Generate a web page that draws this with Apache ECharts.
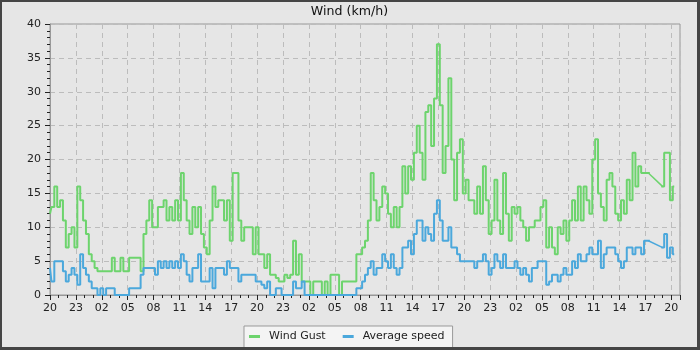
<!DOCTYPE html>
<html>
<head>
<meta charset="utf-8">
<title>Wind (km/h)</title>
<script src="https://cdn.jsdelivr.net/npm/echarts@6/dist/echarts.min.js"></script>
<style>
	html, body { margin: 0; padding: 0; background: #454545; }
	#chart { position: absolute; left: 2px; top: 2px; width: 695px; height: 345px; background: #e6e6e6; }
</style>
</head>
<body>
<div id="chart"></div>
<script>
	/* one sample every 20 minutes, starting at 20:00 */
	var startHour = 20;
	var samplesPerHour = 3;
	var tickLabels = ['20','23','02','05','08','11','14','17','20','23','02','05','08',
		'11','14','17','20','23','02','05','08','11','14','17','20'];

	var windGust = [
		12, 13, 16,   13, 14, 11,   7, 9, 10,   7, 16, 14,   11, 9, 6,   5, 4, 3.5,
		3.5, 3.5, 3.5,   3.5, 5.5, 3.5,   3.5, 5.5, 3.5,   3.5, 5.5, 5.5,   5.5, 5.5, 3.5,   9, 11, 14,
		10, 10, 13,   13, 14, 11,   13, 11, 14,   11, 18, 14,   11, 9, 13,   10, 13, 9,
		7, 6, 11,   16, 13, 14,   14, 11, 14,   8, 18, 18,   11, 8, 10,   10, 10, 6,
		10, 6, 6,   4, 6, 3,   3, 2.5, 2,   2, 3, 2.5,   3, 8, 3,   6, 2, 2,
		2, 0, 2,   2, 2, 0,   2, 0, 3,   3, 3, 0,   2, 2, 2,   2, 2, 6,
		6, 7, 8,   11, 18, 14,   11, 13, 16,   15, 12, 10,   13, 10, 13,   19, 15, 19,
		17, 21, 25,   21, 17, 27,   28, 22, 29,   37, 28, 18,   22, 32, 20,   14, 21, 23,
		15, 17, 14,   14, 12, 16,   12, 19, 14,   9, 11, 17,   11, 9, 18,   12, 8, 13,
		12, 13, 11,   10, 8, 10,   10, 11, 11,   13, 14, 7,   10, 7, 6,   10, 9, 11,
		8, 11, 14,   11, 16, 11,   16, 14, 12,   20, 23, 15,   13, 11, 17,   18, 16, 12,
		11, 14, 12,   17, 14, 21,   16, 19, 18,   18, 18, null,   null, null, null,   16, 21, 21,
		14, 16
	];

	var averageSpeed = [
		4, 2, 5,   5, 5, 3.5,   2, 3, 4,   3, 1.5, 6,   4, 3, 2,   1, 1, 0,
		1, 0, 1,   1, 1, 0,   0, 0, 0,   0, 1, 1,   1, 1, 3,   4, 4, 4,
		4, 3, 5,   4, 5, 4,   5, 4, 5,   4, 6, 5,   3, 2, 4,   4, 6, 2,
		2, 2, 4,   1, 4, 4,   4, 3, 5,   4, 4, 4,   2, 3, 3,   3, 3, 3,
		2, 2, 1.5,   1, 2, 0,   0, 1, 1,   0, 0, 0,   0, 2, 1,   1, 2, 0,
		0, 0, 0,   0, 0, 0,   0, 0, 0,   0, 0, 0,   0, 0, 0,   0, 0, 1,
		1, 2, 3,   4, 5, 3,   4, 4, 6,   5, 4, 6,   4, 3, 4,   7, 7, 8,
		6, 9, 11,   11, 8, 10,   9, 8, 12,   14, 11, 8,   8, 10, 7,   7, 6, 5,
		5, 5, 5,   5, 4, 5,   5, 6, 5,   3, 4, 6,   5, 4, 6,   4, 4, 4,
		5, 4, 3,   4, 3, 2,   4, 4, 5,   5, 5, 1.5,   2, 3, 3,   2, 3, 4,
		3, 3, 5,   4, 6, 5,   5, 6, 7,   6, 6, 8,   4, 6, 7,   7, 7, 6,
		5, 4, 5,   7, 7, 6,   7, 7, 6,   8, 8, null,   null, null, null,   7, 9, 5.5,
		7, 6
	];

	function toPoints(values) {
		var pts = [];
		for (var i = 0; i < values.length; i++) {
			pts.push([i / samplesPerHour, values[i] === null ? '-' : values[i]]);
		}
		return pts;
	}

	/* the logger was off for a while: the original joins the two ends with a straight line */
	function gapBridges(values) {
		var pts = [];
		for (var i = 1; i < values.length; i++) {
			if (values[i] === null && values[i - 1] !== null) {
				var j = i;
				while (j < values.length && values[j] === null) j++;
				if (j < values.length) {
					pts.push([(i - 1) / samplesPerHour, values[i - 1]]);
					pts.push([j / samplesPerHour, values[j]]);
					pts.push([j / samplesPerHour, '-']);
				}
			}
		}
		return pts;
	}

	var font = 'DejaVu Sans';
	var gustColor = '#6dd46d';
	var avgColor = '#4ba8dc';
	var chart = echarts.init(document.getElementById('chart'));

	function stepSeries(name, color, values) {
		return {
			name: name,
			type: 'line',
			step: 'middle',
			showSymbol: false,
			symbol: 'none',
			color: color,
			lineStyle: { width: 2, color: color },
			data: toPoints(values)
		};
	}

	function bridgeSeries(name, color, values) {
		return {
			name: name,
			type: 'line',
			showSymbol: false,
			symbol: 'none',
			color: color,
			lineStyle: { width: 1.5, color: color },
			data: gapBridges(values)
		};
	}

	var option = {
		backgroundColor: '#e6e6e6',
		animation: false,
		title: {
			text: 'Wind (km/h)',
			left: 'center',
			top: 3,
			padding: 0,
			textStyle: { fontFamily: font, fontSize: 12.6, fontWeight: 'normal', color: '#111' }
		},
		grid: {
			left: 48, top: 22, right: 17, bottom: 52,
			show: true, borderColor: '#999', borderWidth: 1, backgroundColor: 'transparent'
		},
		legend: {
			left: 242,
			top: 324,
			icon: 'rect',
			itemWidth: 11,
			itemHeight: 3,
			itemGap: 17,
			padding: [5, 8, 8, 5],
			backgroundColor: '#f4f4f4',
			borderColor: '#999',
			borderWidth: 1,
			textStyle: { fontFamily: font, fontSize: 11, color: '#222', padding: [0, 0, 0, 4] },
			data: ['Wind Gust', 'Average speed']
		},
		xAxis: {
			type: 'value',
			min: 0,
			max: 73,
			interval: 3,
			axisLine: { lineStyle: { color: '#999' } },
			axisTick: { length: 5, lineStyle: { color: '#222' } },
			minorTick: { show: true, splitNumber: 3, length: 3, lineStyle: { color: '#222' } },
			splitLine: { show: true, lineStyle: { color: '#bcbcbc', type: [5, 4] } },
			axisLabel: {
				margin: 8,
				fontFamily: font, fontSize: 11, color: '#222',
				formatter: function (v) {
					if (v % 3 !== 0) return '';
					return tickLabels[v / 3] || '';
				}
			}
		},
		yAxis: {
			type: 'value',
			min: 0,
			max: 40,
			interval: 5,
			axisLine: { show: true, lineStyle: { color: '#999' } },
			axisTick: { show: true, length: 5, lineStyle: { color: '#222' } },
			minorTick: { show: true, splitNumber: 5, length: 3, lineStyle: { color: '#222' } },
			splitLine: { show: true, lineStyle: { color: '#bcbcbc', type: [5, 4] } },
			axisLabel: { margin: 9, fontFamily: font, fontSize: 11, color: '#222' }
		},
		series: [
			stepSeries('Wind Gust', gustColor, windGust),
			bridgeSeries('Wind Gust', gustColor, windGust),
			stepSeries('Average speed', avgColor, averageSpeed),
			bridgeSeries('Average speed', avgColor, averageSpeed)
		]
	};

	chart.setOption(option);
</script>
</body>
</html>
